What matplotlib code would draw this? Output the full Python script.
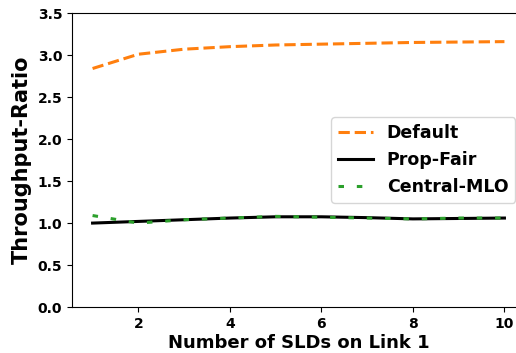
import matplotlib
matplotlib.use("Agg")
import matplotlib.pyplot as plt

x = [1, 2, 3, 4, 5, 6, 7, 8, 9, 10]
default = [2.84, 3.01, 3.07, 3.10, 3.12, 3.13, 3.14, 3.15, 3.155, 3.16]
prop_fair = [1.0, 1.02, 1.04, 1.06, 1.075, 1.075, 1.065, 1.05, 1.055, 1.06]
central_mlo = [1.09, 1.0, 1.04, 1.06, 1.08, 1.07, 1.06, 1.05, 1.06, 1.06]

fig = plt.figure(figsize=(5.16, 3.53), dpi=100)
ax = fig.add_axes([0.1395, 0.130, 0.878, 0.833])
ax.plot(x, default, linestyle='--', color='#ff7f0e', linewidth=2.2, label='Default')
ax.plot(x, prop_fair, linestyle='-', color='black', linewidth=2.2, label='Prop-Fair')
ax.plot(x, central_mlo, linestyle=(0, (1.8, 4.2)), color='#2ca02c', linewidth=2.2, label='Central-MLO')
ax.spines['right'].set_visible(False)
ax.set_ylim(0, 3.5)
ax.set_xlim(0.55, 10.45)
ax.set_xticks([2, 4, 6, 8, 10])
ax.set_yticks([0.0, 0.5, 1.0, 1.5, 2.0, 2.5, 3.0, 3.5])
ax.set_yticklabels([f"{v:.1f}" for v in ax.get_yticks()])
for lbl in ax.get_xticklabels() + ax.get_yticklabels():
    lbl.set_fontweight('bold')
    lbl.set_fontsize(10)
ax.set_xlabel('Number of SLDs on Link 1', fontsize=13, fontweight='bold', labelpad=2)
ax.set_ylabel('Throughput-Ratio', fontsize=15, fontweight='bold')
ax.legend(loc='center right', prop={'weight': 'bold', 'size': 12.5},
          bbox_to_anchor=(0.998, 0.5))
fig.savefig('out.png', dpi=100)
